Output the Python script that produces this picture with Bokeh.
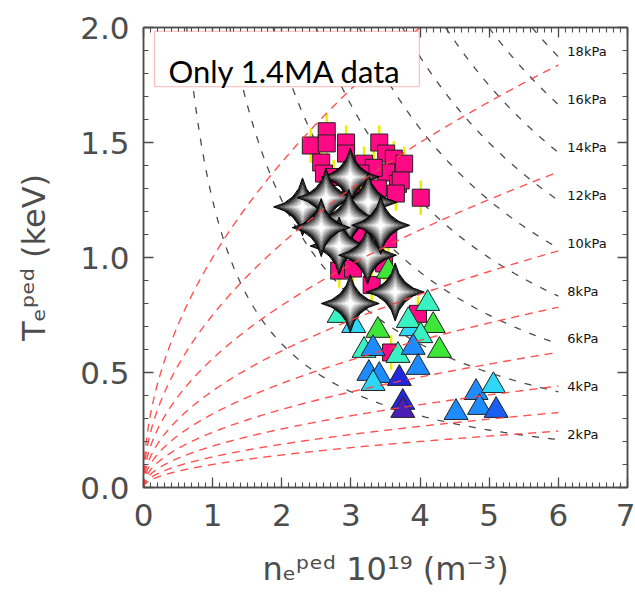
import numpy as np
from bokeh.plotting import figure
from bokeh.models import (Range1d, FixedTicker, LinearAxis, Label, BoxAnnotation,
                          ColumnDataSource, CustomJSTickFormatter, PrintfTickFormatter)
from bokeh.core.properties import value
from bokeh.embed import file_html
from bokeh.resources import INLINE

# ---------------- data ----------------
# magenta squares (ne in 1e19 m^-3, Te in keV) with yellow error bars
sq_n = [2.42, 2.65, 2.65, 2.93, 3.41, 2.57, 2.61, 2.93, 3.19, 3.51, 3.62, 3.77,
        3.51, 3.68, 3.72, 4.01, 3.33, 3.39, 3.14, 3.65, 3.54, 2.83, 3.03, 3.48,
        3.97, 3.58, 2.75, 3.00, 3.30, 3.10]
sq_T = [1.487, 1.549, 1.496, 1.50, 1.50, 1.413, 1.365, 1.452, 1.408, 1.452, 1.43, 1.408,
        1.37, 1.32, 1.335, 1.26, 1.39, 1.30, 1.365, 1.278, 1.08, 0.943, 0.952, 0.974,
        0.755, 0.587, 1.35, 1.28, 0.88, 1.10]
sq_err = [0.075] * len(sq_n)

# big grey stars
star_n = [2.30, 2.99, 3.25, 2.64, 2.97, 2.83, 3.24, 2.99, 3.64, 3.43, 2.57]
star_T = [1.22, 1.35, 1.24, 1.26, 1.17, 1.05, 1.01, 0.80, 0.85, 1.14, 1.13]

# triangles with their colour class
tri_n = [4.11, 3.39, 2.83, 3.04, 4.19, 3.87, 3.83, 4.01, 4.28, 3.19, 3.32, 3.68,
         3.90, 3.97, 3.26, 3.41, 3.32, 3.70, 3.75, 3.75, 4.52, 4.81, 5.06, 4.86,
         5.10, 3.54]
tri_T = [0.80, 0.683, 0.748, 0.704, 0.704, 0.69, 0.726, 0.66, 0.596, 0.596, 0.604, 0.574,
         0.609, 0.522, 0.496, 0.487, 0.452, 0.474, 0.37, 0.335, 0.326, 0.413, 0.443, 0.348,
         0.335, 0.94]
tri_cls = ["aq", "gr", "aq", "cy", "gr", "cy", "aq", "aq", "gr", "aq", "db", "aq",
           "db", "db", "db", "db", "cy", "in", "in", "pu", "db", "db", "cy", "db",
           "bl", "gr"]

# isobars (kPa) and constant-collisionality curves (Te = c * sqrt(ne))
isobar_kpa = [2, 4, 6, 8, 10, 12, 14, 16, 18]
nu_coef = [1.0, 0.75, 0.56, 0.42, 0.32, 0.24, 0.18, 0.133, 0.10]

x_ticks = [0, 1, 2, 3, 4, 5, 6, 7]
y_ticks = [0.0, 0.5, 1.0, 1.5, 2.0]

# ---------------- styles ----------------
tri_colors = {"aq": "#38f2c4", "gr": "#3ee63a", "cy": "#2ed6f8", "db": "#1e8cff",
              "bl": "#1a5ef2", "in": "#2228dc", "pu": "#4a20b4"}
star_sizes = [41, 36, 31, 25, 19, 13, 7]
star_cols = ["#050505", "#333333", "#666666", "#939393", "#bdbdbd", "#e2e2e2", "#ffffff"]
AX = "#4d4d4d"
E_KPA = 1.602  # kPa per (1e19 m^-3 * keV)

p = figure(width=635, height=597, x_range=Range1d(0, 7), y_range=Range1d(0, 2),
           output_backend="svg", toolbar_location=None,
           min_border_left=143, min_border_right=8, min_border_top=27, min_border_bottom=110)
p.background_fill_color = "white"
p.border_fill_color = "white"
p.grid.visible = False
p.outline_line_color = AX
p.outline_line_width = 1.5

xminor = [round(i * 0.1, 2) for i in range(0, 71)]
yminor = [round(i * 0.1, 2) for i in range(0, 21)]


def style_axis(ax, label=True, standoff=15):
    ax.major_tick_in = 10
    ax.major_tick_out = 0
    ax.minor_tick_in = 5
    ax.minor_tick_out = 0
    ax.axis_line_color = AX
    ax.axis_line_width = 1.5
    ax.major_tick_line_color = AX
    ax.minor_tick_line_color = AX
    ax.major_tick_line_width = 1.3
    ax.minor_tick_line_width = 1.1
    ax.major_label_text_font = "DejaVu Sans"
    ax.major_label_text_font_size = "31px"
    ax.major_label_text_color = AX
    ax.major_label_standoff = standoff
    ax.axis_label_text_font = "DejaVu Sans"
    ax.axis_label_text_font_size = "32px"
    ax.axis_label_text_font_style = "normal"
    ax.axis_label_text_color = AX
    if not label:
        ax.formatter = CustomJSTickFormatter(code="return ''")
        ax.major_label_standoff = 0


p.xaxis.ticker = FixedTicker(ticks=x_ticks, minor_ticks=xminor)
p.yaxis.ticker = FixedTicker(ticks=y_ticks, minor_ticks=yminor)
p.yaxis.formatter = PrintfTickFormatter(format="%.1f")
style_axis(p.xaxis[0], standoff=16)
style_axis(p.yaxis[0], standoff=14)
p.xaxis.axis_label = "n\u2091\u1d56\u1d49\u1d48 10\u00b9\u2079 (m\u207b\u00b3)"
p.yaxis.axis_label = "T\u2091\u1d56\u1d49\u1d48 (keV)"
p.xaxis.axis_label_standoff = 21
p.yaxis.axis_label_standoff = 24

top = LinearAxis(ticker=FixedTicker(ticks=x_ticks, minor_ticks=xminor))
style_axis(top, label=False)
p.add_layout(top, "above")
right = LinearAxis(ticker=FixedTicker(ticks=y_ticks, minor_ticks=yminor))
style_axis(right, label=False)
p.add_layout(right, "right")

# ---------------- isobars (black dashed) ----------------
for pk in isobar_kpa:
    n0 = pk / (E_KPA * 2.0)
    nn = np.linspace(n0, 6.0, 300)
    p.line(nn, pk / (E_KPA * nn), line_color="#4a4a4a", line_width=1.3, line_dash="7 9")

# ---------------- squares with error bars ----------------
sq_lo = [t - e for t, e in zip(sq_T, sq_err)]
sq_hi = [t + e for t, e in zip(sq_T, sq_err)]
p.segment(x0=sq_n, y0=sq_lo, x1=sq_n, y1=sq_hi, line_color="#e8f000", line_width=2.5)
p.scatter(sq_n, sq_T, marker="square", size=17, fill_color="#ff0a84",
          line_color="#222222", line_width=1)

# ---------------- triangles ----------------
p.scatter(tri_n, tri_T, marker="triangle", size=24,
          fill_color=[tri_colors[c] for c in tri_cls], line_color="#222222", line_width=1)

# ---------------- stars (layered grey gradient) ----------------
sx, sy, ss, sc = [], [], [], []
for n, t in zip(star_n, star_T):
    for s, c in zip(star_sizes, star_cols):
        sx.append(n); sy.append(t); ss.append(s); sc.append(c)
star_src = ColumnDataSource(dict(x=sx, y=sy, size=ss, color=sc))
p.scatter("x", "y", size="size", source=star_src, marker="square_pin", angle=np.pi / 4,
          fill_color="color", line_color="color", line_width=1)

# ---------------- collisionality curves (red dashed) ----------------
g = np.linspace(0, 1, 500) ** 2 * 6.0
for c in nu_coef:
    p.line(g, c * np.sqrt(g), line_color="#ff4040", line_alpha=0.9, line_width=1.4,
           line_dash="8 6")

# isobar labels
p.text(x=[6.13] * len(isobar_kpa), y=[pk / (E_KPA * 6.0) + 0.022 for pk in isobar_kpa],
       text=[f"{pk}kPa" for pk in isobar_kpa], text_font=value("DejaVu Sans"),
       text_font_size="13px", text_baseline="middle", text_align="left", text_color="#111111")

# ---------------- legend box ----------------
p.add_layout(BoxAnnotation(left=0.16, right=3.99, bottom=1.743, top=1.983,
                           fill_color="white", fill_alpha=1.0,
                           line_color="#e83a3a", line_width=1.4))
p.add_layout(Label(x=0.36, y=1.813, text="Only 1.4MA data", text_font="Lato",
                   text_font_size="31px", text_baseline="alphabetic", text_color="black"))

open("out.html", "w").write(file_html(p, INLINE))
